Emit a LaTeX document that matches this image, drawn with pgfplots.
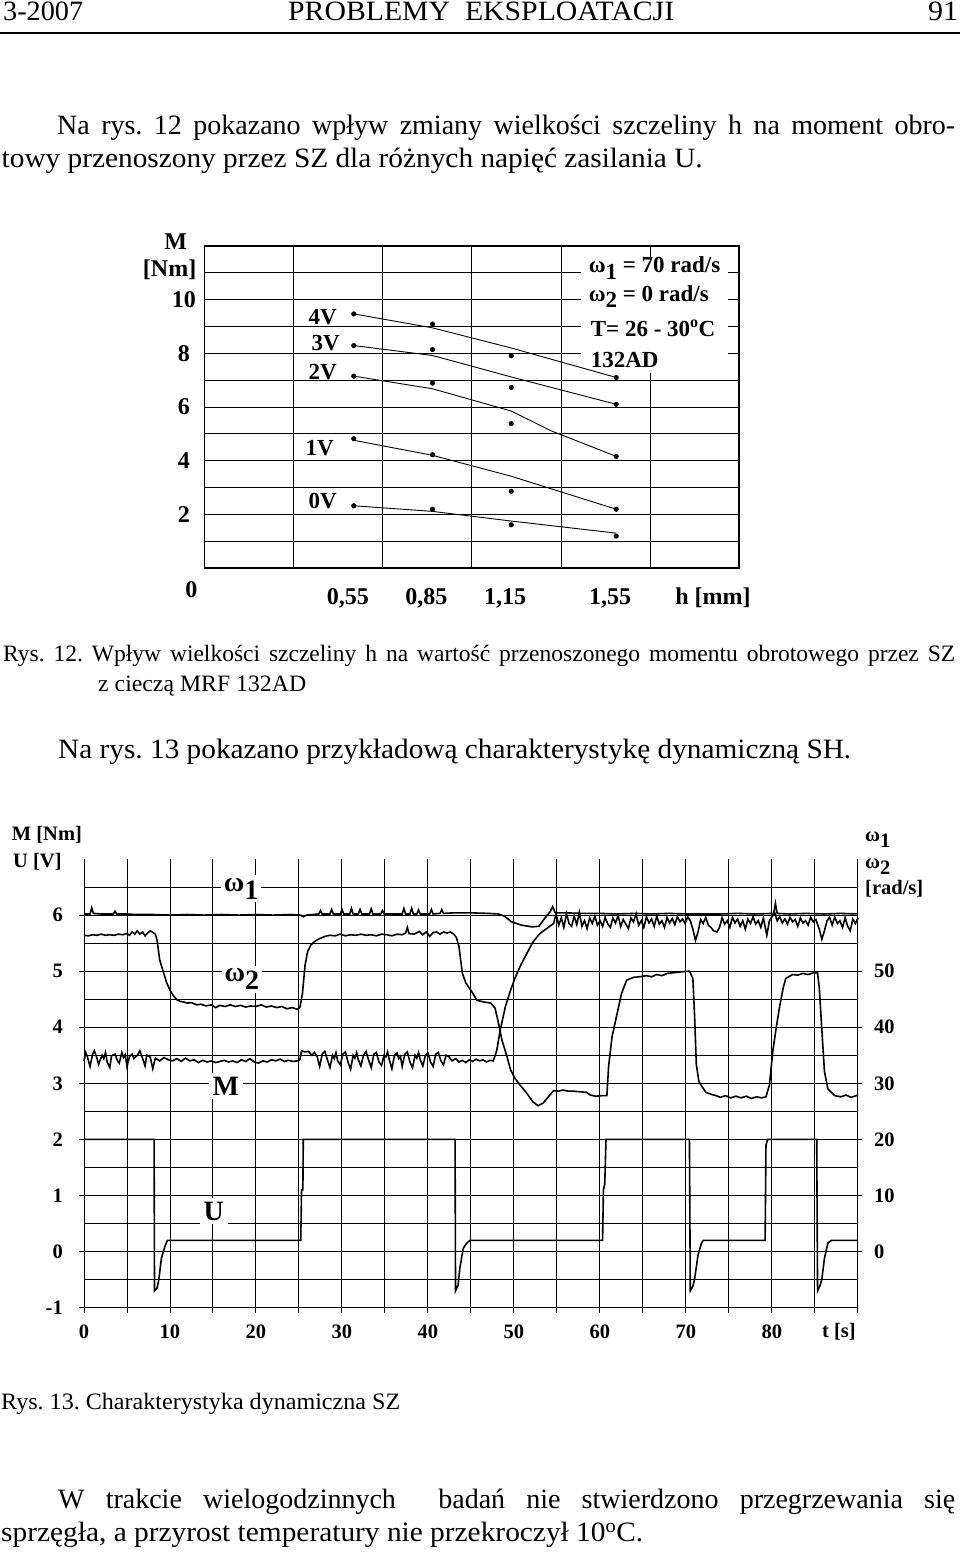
\documentclass[border=0pt]{standalone}
\usepackage{fontspec}
\setmainfont{Liberation Serif}
\usepackage{graphicx}
\usepackage{pgfplots}
\pgfplotsset{compat=1.18}
\pgfplotsset{/pgf/number format/assume math mode=true}
\newcommand{\fs}[1]{\fontsize{#1}{#1}\selectfont}
\newcommand{\sub}[1]{\raisebox{-0.28em}{#1}}
\frenchspacing
\begin{document}
\begin{tikzpicture}
\fill[white] (0,0) rectangle (960pt,-1556pt);
\useasboundingbox (0,0) rectangle (960pt,-1556pt);

% ---------------- header ----------------
\node[anchor=base west, inner sep=0pt, font=\fs{28}] at (3pt,-20.7pt) {\resizebox{80pt}{\height}{3-2007}};
\node[anchor=base west, inner sep=0pt, font=\fs{28}] at (288pt,-20.7pt) {\resizebox{386pt}{\height}{PROBLEMY\ \ EKSPLOATACJI}};
\node[anchor=base west, inner sep=0pt, font=\fs{28}] at (928pt,-20.7pt) {\resizebox{30pt}{\height}{91}};
\draw[line width=2pt] (0,-32.7pt) -- (960pt,-32.7pt);

% ---------------- body text ----------------
\node[anchor=base west, inner sep=0pt, font=\fs{28}] at (57pt,-134pt) {\makebox[898pt][s]{Na rys. 12 pokazano wpływ zmiany wielkości szczeliny h na moment obro-}};
\node[anchor=base west, inner sep=0pt, font=\fs{28}] at (1.5pt,-167.7pt) {\resizebox{701pt}{\height}{towy przenoszony przez SZ dla różnych napięć zasilania U.}};

\node[anchor=base west, inner sep=0pt, font=\fs{23.5}] at (3pt,-661.7pt) {\makebox[952pt][s]{Rys. 12. Wpływ wielkości szczeliny h na wartość przenoszonego momentu obrotowego przez SZ}};
\node[anchor=base west, inner sep=0pt, font=\fs{23.5}] at (98pt,-691pt) {\resizebox{208pt}{\height}{z cieczą MRF 132AD}};
\node[anchor=base west, inner sep=0pt, font=\fs{28}] at (58pt,-758pt) {\resizebox{793pt}{\height}{Na rys. 13 pokazano przykładową charakterystykę dynamiczną SH.}};

\node[anchor=base west, inner sep=0pt, font=\fs{23.5}] at (1pt,-1409pt) {\resizebox{399pt}{\height}{Rys. 13. Charakterystyka dynamiczna SZ}};
\node[anchor=base west, inner sep=0pt, font=\fs{28}] at (58pt,-1508.3pt) {\makebox[897pt][s]{W trakcie wielogodzinnych\ \ badań nie stwierdzono przegrzewania się}};
\node[anchor=base west, inner sep=0pt, font=\fs{28}] at (1pt,-1541.7pt) {\resizebox{642pt}{\height}{sprzęgła, a przyrost temperatury nie przekroczył 10\textsuperscript{o}C.}};

% ---------------- chart 1 ----------------
\begin{axis}[
  at={(204.4pt,-568pt)}, anchor=south west, scale only axis,
  width=534.4pt, height=322pt,
  xmin=-0.019, xmax=2.017, ymin=0, ymax=12,
  axis line style={line width=1.8pt},
  xtick={0.55,0.85,1.15,1.55}, xticklabels={{0,55},{0,85},{1,15},{1,55}},
  ytick={1,2,3,4,5,6,7,8,9,10,11}, yticklabels={,2,,4,,6,,8,,10,},
  ymajorgrids,
  extra x ticks={0.32,0.66,1.0,1.34,1.68}, extra x tick labels={},
  extra x tick style={grid=major},
  major tick length=0pt,
  grid style={black, line width=0.9pt},
  tick label style={font=\bfseries\fs{24}},
  xticklabel style={anchor=center, yshift=-30pt, xshift=-6pt},
  yticklabel style={anchor=center, xshift=-20.5pt},
  clip=false]
\fill[white] (axis cs:1.416,11.55) rectangle (axis cs:1.975,7.25);
\addplot[black, line width=0.9pt] coordinates {(0.55,9.47) (0.85,8.95) (1.15,8.2) (1.55,7.1)};
\addplot[black, line width=0.9pt] coordinates {(0.55,8.29) (0.85,7.92) (1.15,7.12) (1.55,6.1)};
\addplot[black, line width=0.9pt] coordinates {(0.55,7.15) (0.85,6.68) (1.15,5.85) (1.3,5.12) (1.55,4.16)};
\addplot[black, line width=0.9pt] coordinates {(0.55,4.76) (0.85,4.2) (1.15,3.42) (1.55,2.19)};
\addplot[black, line width=0.9pt] coordinates {(0.55,2.32) (0.85,2.11) (1.15,1.75) (1.55,1.3)};
\addplot[only marks, mark=*, mark size=2.3pt, black] coordinates {
 (0.55,9.47) (0.85,9.09) (1.15,7.91) (1.55,7.10)
 (0.55,8.29) (0.85,8.14) (1.15,6.73) (1.55,6.10)
 (0.55,7.15) (0.85,6.89) (1.15,5.38) (1.55,4.16)
 (0.55,4.82) (0.85,4.22) (1.15,2.86) (1.55,2.19)
 (0.55,2.32) (0.85,2.19) (1.15,1.61) (1.55,1.19)};
\end{axis}
\begin{scope}[every node/.style={font=\bfseries\fs{23}, inner sep=0pt}]
\node[anchor=west] at (588.6pt,-268pt) {ω\sub{1} = 70 rad/s};
\node[anchor=west] at (588.6pt,-296.7pt) {ω\sub{2} = 0 rad/s};
\node[anchor=west] at (590.6pt,-328pt) {T= 26 - 30\textsuperscript{o}C};
\node[anchor=west] at (590.6pt,-360pt) {132AD};
\node at (322.6pt,-316.7pt) {4V};
\node at (325.8pt,-342.7pt) {3V};
\node at (322.6pt,-371.7pt) {2V};
\node at (319.8pt,-447.7pt) {1V};
\node at (322.6pt,-501pt) {0V};
\node[font=\bfseries\fs{24}] at (175.6pt,-241.7pt) {M};
\node[font=\bfseries\fs{24}] at (169.6pt,-270pt) {[Nm]};
\node[font=\bfseries\fs{24}] at (191.4pt,-590pt) {0};
\node[font=\bfseries\fs{24}] at (713pt,-598pt) {h [mm]};
\end{scope}

% ---------------- chart 2 ----------------
\begin{axis}[
  at={(84pt,-1307.6pt)}, anchor=south west, scale only axis,
  width=774pt, height=448.6pt,
  xmin=0, xmax=90, ymin=-1, ymax=7,
  axis line style={draw=none},
  xtick={0,10,...,90}, xticklabels={0,10,20,30,40,50,60,70,80,},
  minor xtick={5,15,...,85},
  ytick={-1,0,1,2,3,4,5,6}, yticklabels={-1,0,1,2,3,4,5,6},
  minor ytick={-0.5,0.5,1.5,2.5,3.5,4.5,5.5,6.5},
  grid=both, grid style={black, line width=1pt}, minor grid style={black, line width=1pt},
  tick align=outside, major tick length=5pt, minor tick length=5pt,
  xtick pos=bottom, ytick pos=left,
  tick style={black, line width=1pt},
  minor y tick style={draw=none},
  tick label style={font=\bfseries\fs{20.5}},
  xticklabel style={anchor=center, yshift=-19pt},
  yticklabel style={anchor=east, inner sep=0pt, xshift=-16pt},
  clip=false]
% omega_1
\addplot[black, line width=1.6pt] coordinates {
(0,6.02)(0.7,6.02)(0.9,6.13)(1.1,6.03)(2,6.02)(3.4,6.02)(3.6,6.07)(3.8,6.02)(5,6.02)(6,6.01)(8,6.01)(10,6.0)(12,6.01)(14,6.0)(16,6.01)(18,6.0)(20,6.01)(22,6.0)(24,6.01)(25.2,6.0)(25.5,5.97)(25.9,6.0)(26.6,6.01)(27.3,6.02)(27.5,6.08)(27.7,6.02)(28.6,6.02)(28.8,6.1)(29,6.02)(29.8,6.02)(30,6.1)(30.2,6.02)(30.9,6.02)(31.1,6.12)(31.3,6.02)(31.9,6.02)(32.1,6.1)(32.3,6.02)(33.2,6.02)(33.4,6.11)(33.6,6.02)(34.5,6.02)(34.7,6.08)(34.9,6.02)(37,6.02)(37.2,6.12)(37.4,6.02)(37.9,6.02)(38.1,6.12)(38.3,6.02)(38.7,6.02)(38.9,6.09)(39.1,6.02)(40.2,6.02)(40.4,6.1)(40.6,6.02)(41.4,6.03)(41.6,6.1)(41.8,6.03)(43,6.04)(45,6.04)(47,6.03)(48.2,6.02)(48.9,5.98)(49.7,5.88)(50.9,5.82)(52.1,5.79)(52.9,5.8)(53.6,5.95)(54.2,6.06)(54.5,6.15)(54.8,6.04)(56,6.04)(58,6.03)(60,6.03)(62,6.02)(64,6.03)(66,6.02)(68,6.03)(70,6.02)(72,6.02)(74,6.02)(76,6.03)(78,6.02)(80.2,6.03)(80.4,6.21)(80.6,6.03)(82,6.02)(84,6.03)(86,6.02)(88,6.03)(90,6.02)};
% omega_2
\addplot[black, line width=1.6pt] coordinates {
(0,5.64)(0.5,5.63)(1,5.65)(1.5,5.64)(2,5.66)(2.5,5.64)(3,5.65)(3.5,5.64)(4,5.66)(4.5,5.65)(5,5.67)(5.3,5.64)(5.6,5.70)(5.9,5.66)(6.2,5.72)(6.5,5.66)(6.8,5.70)(7.1,5.63)(7.4,5.68)(7.7,5.72)(8.0,5.69)(8.3,5.66)(8.5,5.55)(8.8,5.2)(9.2,5.0)(9.6,4.8)(10.0,4.66)(10.4,4.56)(10.8,4.49)(11.2,4.46)(11.6,4.45)(12.0,4.43)(12.5,4.44)(13.1,4.4)(13.6,4.41)(14.2,4.38)(14.8,4.4)(15.3,4.35)(15.8,4.39)(16.4,4.37)(17,4.4)(17.6,4.37)(18.2,4.39)(18.8,4.36)(19.4,4.38)(20,4.37)(20.6,4.4)(21.2,4.36)(21.8,4.38)(22.4,4.35)(23,4.37)(23.6,4.33)(24.2,4.35)(24.8,4.32)(25.1,4.35)(25.4,4.6)(25.7,5.1)(26.0,5.35)(26.4,5.47)(26.9,5.54)(27.4,5.58)(28,5.62)(28.6,5.64)(29.2,5.63)(29.8,5.66)(30.4,5.63)(31,5.65)(31.6,5.64)(32.2,5.66)(32.8,5.64)(33.4,5.65)(34,5.63)(34.6,5.66)(35.2,5.65)(35.8,5.63)(36.4,5.66)(37,5.65)(37.4,5.68)(37.6,5.78)(37.8,5.67)(38.4,5.66)(39,5.71)(39.4,5.65)(39.8,5.7)(40.2,5.62)(40.6,5.69)(41,5.7)(41.4,5.66)(41.8,5.7)(42.2,5.68)(42.6,5.7)(43.0,5.66)(43.3,5.6)(43.6,5.44)(44.0,4.96)(44.4,4.79)(45.1,4.63)(45.7,4.48)(46.5,4.45)(47.3,4.43)(47.8,4.34)(48.2,4.07)(48.6,3.77)(49.2,3.47)(49.6,3.24)(50.1,3.09)(50.7,2.97)(51.5,2.82)(52.2,2.67)(52.8,2.6)(53.4,2.65)(54.0,2.76)(54.6,2.87)(55.2,2.86)(55.7,2.88)(56.3,2.86)(56.9,2.86)(57.6,2.85)(58.4,2.84)(58.9,2.79)(59.5,2.77)(60.2,2.78)(60.8,2.78)(61.0,3.3)(61.4,3.83)(62.0,4.25)(62.5,4.6)(63.1,4.84)(63.9,4.89)(64.6,4.9)(65.4,4.92)(66,4.9)(66.6,4.94)(67.2,4.92)(67.8,4.96)(68.4,4.97)(69,4.98)(69.6,4.99)(70.4,5.0)(70.8,4.87)(71.0,4.2)(71.2,3.34)(71.5,3.03)(72.3,2.84)(73,2.8)(73.5,2.78)(74,2.75)(74.6,2.78)(75.2,2.74)(75.8,2.77)(76.4,2.74)(77,2.77)(77.6,2.73)(78.2,2.76)(78.8,2.74)(79.3,2.76)(79.7,2.97)(80.1,3.58)(80.5,4.0)(80.9,4.38)(81.3,4.7)(81.6,4.87)(82.4,4.94)(83,4.93)(83.6,4.96)(84.2,4.94)(84.8,4.97)(85.3,4.97)(85.5,4.7)(85.8,3.95)(86.1,3.21)(86.5,2.9)(87.3,2.78)(88,2.76)(88.6,2.79)(89.2,2.75)(90,2.79)};
% M
\addplot[black, line width=1.6pt] coordinates {
(0,3.4)(0.2,3.55)(0.4,3.47)(0.7,3.3)(1.0,3.52)(1.2,3.58)(1.5,3.45)(1.7,3.34)(2.1,3.5)(2.3,3.44)(2.5,3.55)(2.7,3.38)(3.0,3.28)(3.2,3.49)(3.6,3.52)(3.9,3.4)(4.1,3.36)(4.4,3.55)(4.6,3.46)(4.8,3.51)(5.0,3.3)(5.3,3.48)(5.6,3.52)(5.8,3.44)(6.0,3.47)(6.2,3.5)(6.5,3.58)(6.8,3.45)(7.1,3.31)(7.3,3.5)(7.7,3.47)(8.0,3.26)(8.3,3.45)(8.8,3.4)(9.3,3.46)(9.8,3.42)(10.3,3.4)(10.8,3.44)(11.3,3.39)(11.8,3.45)(12.3,3.4)(12.8,3.42)(13.3,3.37)(13.8,3.41)(14.3,3.38)(14.8,3.4)(15.3,3.37)(15.8,3.39)(16.3,3.41)(16.8,3.38)(17.3,3.4)(17.8,3.37)(18.3,3.42)(18.8,3.39)(19.3,3.44)(19.8,3.38)(20.3,3.36)(20.8,3.4)(21.3,3.38)(21.8,3.42)(22.3,3.4)(22.8,3.43)(23.3,3.39)(23.8,3.41)(24.3,3.39)(24.8,3.4)(25.1,3.42)(25.3,3.58)(25.7,3.56)(26.1,3.57)(26.5,3.5)(26.8,3.55)(27.1,3.48)(27.4,3.3)(27.7,3.52)(28.0,3.57)(28.2,3.47)(28.6,3.28)(28.9,3.5)(29.1,3.44)(29.3,3.55)(29.5,3.4)(29.8,3.33)(30.1,3.52)(30.4,3.56)(30.7,3.38)(31.0,3.25)(31.3,3.5)(31.5,3.45)(31.7,3.55)(31.9,3.42)(32.2,3.31)(32.5,3.5)(32.8,3.57)(33.0,3.46)(33.4,3.28)(33.7,3.52)(34.0,3.55)(34.3,3.38)(34.6,3.32)(34.9,3.5)(35.1,3.47)(35.3,3.56)(35.5,3.42)(35.8,3.26)(36.1,3.5)(36.4,3.54)(36.6,3.44)(36.8,3.48)(37.0,3.3)(37.3,3.52)(37.6,3.56)(37.9,3.38)(38.2,3.28)(38.5,3.5)(38.7,3.45)(38.9,3.55)(39.1,3.42)(39.4,3.31)(39.7,3.5)(40.0,3.54)(40.3,3.38)(40.6,3.3)(40.9,3.52)(41.2,3.55)(41.5,3.4)(41.8,3.33)(42.1,3.5)(42.4,3.48)(42.8,3.4)(43.2,3.44)(43.6,3.38)(44.0,3.41)(44.4,3.37)(44.8,3.42)(45.2,3.39)(45.6,3.43)(46.0,3.4)(46.4,3.42)(46.8,3.38)(47.2,3.41)(47.6,3.4)(48.0,3.59)(48.4,3.95)(49.0,4.37)(49.6,4.66)(50.1,4.87)(50.7,5.08)(51.5,5.32)(52.2,5.52)(53.0,5.67)(53.8,5.76)(54.6,5.85)(54.9,6.02)(55.2,5.82)(55.5,5.95)(55.8,5.78)(56.1,6.03)(56.4,5.85)(56.7,5.8)(57.0,5.98)(57.3,5.83)(57.6,6.05)(57.9,5.8)(58.2,5.9)(58.5,5.76)(58.8,5.95)(59.1,5.85)(59.4,5.98)(59.7,5.82)(60.0,5.9)(60.3,5.8)(60.6,5.96)(60.9,5.84)(61.2,5.78)(61.5,5.95)(61.8,5.86)(62.1,5.99)(62.4,5.8)(62.7,5.92)(63.0,5.84)(63.3,5.76)(63.6,5.95)(63.9,5.88)(64.2,6.02)(64.5,5.82)(64.8,5.9)(65.1,5.78)(65.4,5.97)(65.7,5.86)(66.0,5.93)(66.3,5.8)(66.6,5.98)(66.9,5.84)(67.2,5.9)(67.5,5.78)(67.8,5.96)(68.1,5.86)(68.4,5.94)(68.7,5.83)(69.0,5.97)(69.3,5.88)(69.6,5.93)(69.9,5.85)(70.2,5.97)(70.5,5.9)(70.8,5.75)(71.1,5.55)(71.4,5.7)(71.7,5.92)(72.0,5.85)(72.3,5.96)(72.6,5.82)(72.9,5.78)(73.2,5.72)(73.6,5.7)(73.9,5.78)(74.2,5.95)(74.5,5.84)(74.8,5.9)(75.1,5.78)(75.4,5.96)(75.7,5.86)(76.0,5.93)(76.3,5.8)(76.6,5.9)(76.9,5.75)(77.2,5.93)(77.5,5.85)(77.8,5.97)(78.1,5.84)(78.4,5.9)(78.7,5.78)(79.0,5.95)(79.4,5.64)(79.7,5.9)(80.0,5.97)(80.3,6.05)(80.6,5.9)(80.9,5.97)(81.2,5.86)(81.5,5.93)(81.8,5.84)(82.1,5.96)(82.4,5.88)(82.7,5.92)(83.0,5.8)(83.3,5.95)(83.6,5.86)(83.9,5.9)(84.2,5.82)(84.5,5.96)(84.8,5.88)(85.1,5.92)(85.5,5.75)(85.8,5.57)(86.1,5.72)(86.4,5.9)(86.7,5.96)(87.0,5.82)(87.3,5.97)(87.6,5.85)(87.9,5.9)(88.2,5.78)(88.5,5.95)(88.8,5.8)(89.1,5.72)(89.4,5.93)(89.7,5.85)(90,5.95)};
% U
\addplot[black, line width=1.6pt] coordinates {
(0,2)(8.15,2)(8.2,-0.7)(8.5,-0.65)(8.7,-0.5)(9.0,-0.12)(9.4,0.09)(9.7,0.2)(25.2,0.2)(25.3,1.1)(25.45,1.1)(25.5,2)(43.15,2)(43.2,-0.7)(43.5,-0.6)(43.7,-0.3)(44.1,0.06)(44.5,0.15)(44.9,0.2)(60.3,0.2)(60.4,1.1)(60.55,1.2)(60.7,2)(70.4,2)(70.5,-0.7)(70.8,-0.62)(71.0,-0.49)(71.4,-0.06)(71.8,0.15)(72.0,0.2)(79.2,0.2)(79.3,1.9)(79.5,2)(85.2,2)(85.3,-0.7)(85.6,-0.6)(85.8,-0.49)(86.1,-0.12)(86.5,0.15)(86.9,0.2)(90,0.2)};
\node[fill=white, inner sep=3pt, font=\bfseries\fs{28}] at (axis cs:18.26,6.466) {ω\sub{1}};
\node[fill=white, inner sep=3pt, font=\bfseries\fs{28}] at (axis cs:18.37,4.86) {ω\sub{2}};
\node[fill=white, inner sep=4pt, font=\bfseries\fs{28}] at (axis cs:16.5,2.95) {M};
\node[fill=white, inner sep=4pt, font=\bfseries\fs{28}] at (axis cs:15.1,0.72) {U};
\end{axis}
\begin{axis}[
  at={(84pt,-1307.6pt)}, anchor=south west, scale only axis,
  width=774pt, height=448.6pt,
  xmin=0, xmax=90, ymin=-10, ymax=70,
  axis x line=none, axis y line*=right, axis line style={draw=none},
  ytick={0,10,20,30,40,50}, yticklabels={0,10,20,30,40,50},
  tick align=outside, major tick length=4pt, tick style={black, line width=1pt},
  yticklabel style={font=\bfseries\fs{20.5}, anchor=west, inner sep=0pt, xshift=12pt}]
\addplot[draw=none] coordinates {(0,0)};
\end{axis}
\begin{scope}[every node/.style={font=\bfseries\fs{20.5}, inner sep=0pt, anchor=west}]
\node at (11.7pt,-835pt) {M [Nm]};
\node at (13pt,-862pt) {U [V]};
\node at (865pt,-840pt) {ω\sub{1}};
\node at (865pt,-867pt) {ω\sub{2}};
\node at (865pt,-889pt) {[rad/s]};
\node[anchor=center] at (839pt,-1331.7pt) {t [s]};
\end{scope}
\end{tikzpicture}
\end{document}
